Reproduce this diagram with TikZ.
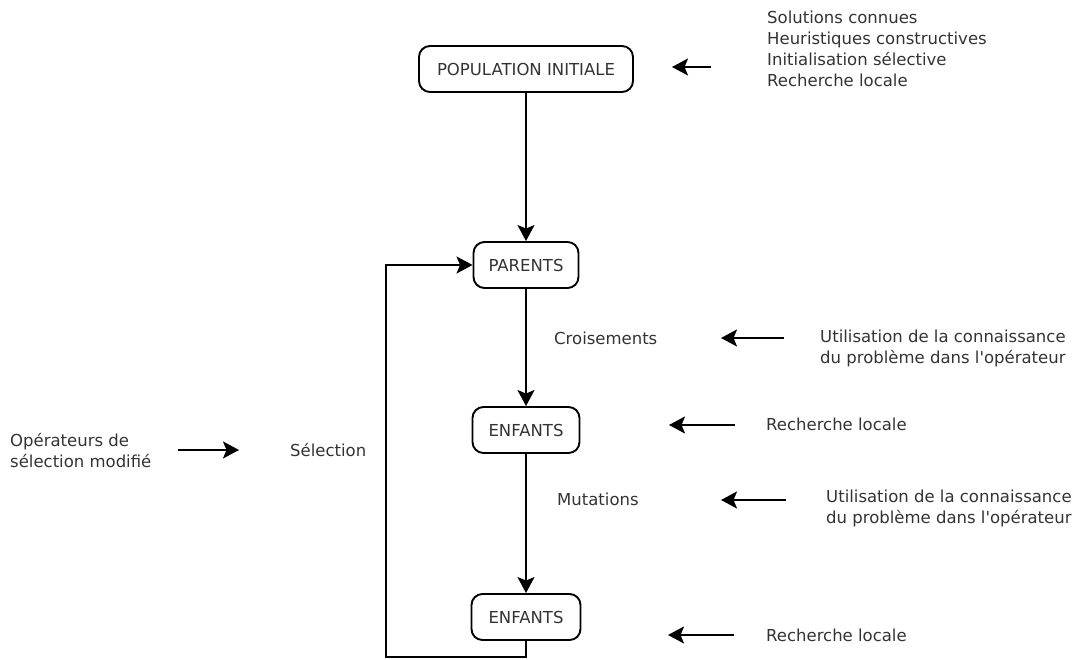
\documentclass[tikz,border=0pt]{standalone}
\usepackage{fontspec}
\setmainfont{DejaVu Sans}
\usetikzlibrary{arrows.meta,positioning}
\tikzset{
  ga-box/.style={draw=black, line width=1.9pt, rounded corners=11pt, fill=white,
    minimum height=46pt, inner xsep=12pt, font=\fontsize{16.5}{21}\selectfont, text=black!80},
  ga-label/.style={font=\fontsize{16.5}{21}\selectfont, text=black!80, inner sep=0pt,
    anchor=west, align=left},
  ga-arrow/.style={line width=2.1pt, -{Stealth[length=16pt, width=17pt, inset=3.5pt]}}
}

\begin{document}
\begin{tikzpicture}[x=1pt, y=-1pt]
  \useasboundingbox (0,0) rectangle (1081,660);

  % main chain of boxes
  \node[ga-box, minimum width=214pt] (popinit) at (526,69) {POPULATION INITIALE};
  \node[ga-box, minimum width=105pt] (parents) at (526,265) {PARENTS};
  \node[ga-box, minimum width=107pt] (enfantsa) at (526,430) {ENFANTS};
  \node[ga-box, minimum width=109pt] (enfantsb) at (526,617) {ENFANTS};
  \draw[ga-arrow] (popinit.south) -- (parents.north);
  \draw[ga-arrow] (parents.south) -- (enfantsa.north);
  \draw[ga-arrow] (enfantsa.south) -- (enfantsb.north);

  % loop back to the parents
  \coordinate (loopb) at (386,657);
  \draw[ga-arrow] (enfantsb.south) |- (loopb) |- (parents.west);

  % operators on the chain
  \node[ga-label] (crois) at (554,338) {Croisements};
  \node[ga-label] (mutat) at (557,499) {Mutations};
  \node[ga-label] (select) at (290,450) {Sélection};

  % initialisation
  \node[ga-label] (initsrc) at (767,49) {Solutions connues\\Heuristiques constructives\\Initialisation sélective\\Recherche locale};
  \coordinate (initfrom) at (711,67);
  \coordinate (initto) at (672,67);
  \draw[ga-arrow] (initfrom) -- (initto);

  % knowledge in the crossover
  \node[ga-label] (croissrc) at (820,348) {Utilisation de la connaissance\\du problème dans l\textquotesingle opérateur};
  \coordinate (croisfrom) at (784,338);
  \coordinate (croisto) at (721,338);
  \draw[ga-arrow] (croisfrom) -- (croisto);

  % local search after crossover
  \node[ga-label] (rlocala) at (766,424) {Recherche locale};
  \coordinate (rlafrom) at (735,425);
  \coordinate (rlato) at (669,425);
  \draw[ga-arrow] (rlafrom) -- (rlato);

  % knowledge in the mutation
  \node[ga-label] (mutatsrc) at (826,508) {Utilisation de la connaissance\\du problème dans l\textquotesingle opérateur};
  \coordinate (mutatfrom) at (786,500);
  \coordinate (mutatto) at (721,500);
  \draw[ga-arrow] (mutatfrom) -- (mutatto);

  % local search after mutation
  \node[ga-label] (rlocalb) at (766,635) {Recherche locale};
  \coordinate (rlbfrom) at (734,635);
  \coordinate (rlbto) at (668,635);
  \draw[ga-arrow] (rlbfrom) -- (rlbto);

  % modified selection
  \node[ga-label] (selsrc) at (10,451) {Opérateurs de\\sélection modifié};
  \coordinate (selfrom) at (178,450);
  \coordinate (selto) at (239,450);
  \draw[ga-arrow] (selfrom) -- (selto);
\end{tikzpicture}
\end{document}
